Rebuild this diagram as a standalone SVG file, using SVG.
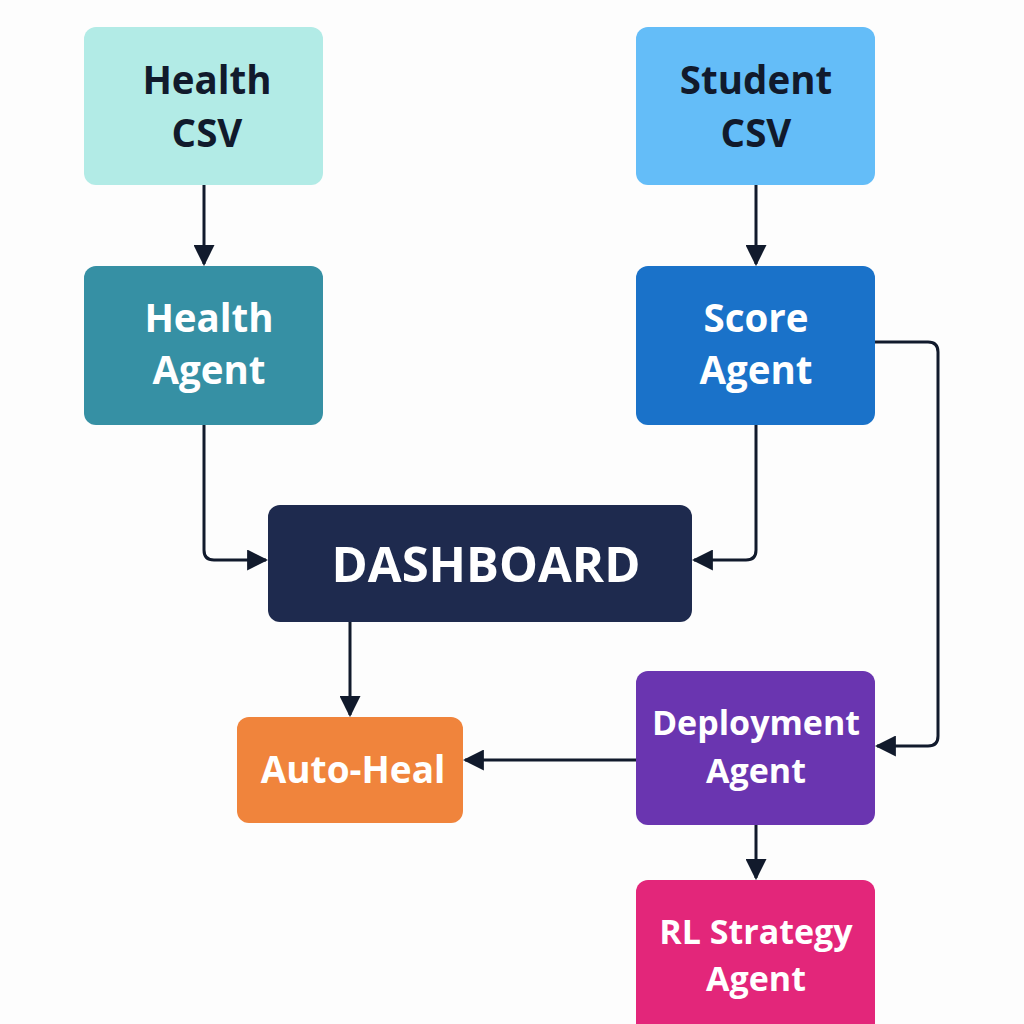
<svg xmlns="http://www.w3.org/2000/svg" width="1024" height="1024" viewBox="0 0 1024 1024">
<defs>
<marker id="ah" viewBox="0 0 10 10" refX="9" refY="5" markerWidth="7" markerHeight="7" markerUnits="strokeWidth" orient="auto">
<path d="M0,0 L10,5 L0,10 Z" fill="#111a2c"/>
</marker>
<style>
.n{font-family:"Open Sans","Liberation Sans",sans-serif;font-weight:700;text-anchor:middle}
.w{fill:#ffffff}
.d{fill:#111a2c}
.c{fill:none;stroke:#111a2c;stroke-width:3;stroke-linejoin:round;marker-end:url(#ah)}
</style>
</defs>
<rect width="1024" height="1024" fill="#fdfdfd"/>
<g id="connectors">
<path class="c" d="M204,185 V264"/>
<path class="c" d="M756,185 V264"/>
<path class="c" d="M204,425 V550 Q204,560 214,560 H266"/>
<path class="c" d="M756,425 V550 Q756,560 746,560 H694"/>
<path class="c" d="M875,342 H928 Q938,342 938,352 V736 Q938,746 928,746 H877"/>
<path class="c" d="M350,622 V715"/>
<path class="c" d="M636,760 H465"/>
<path class="c" d="M756,825 V878"/>
</g>
<g id="health-csv">
<rect x="84" y="27" width="239" height="158" rx="12" fill="#b2ebe6"/>
<text class="n d" x="207" y="94" font-size="38.5">Health</text>
<text class="n d" x="207" y="147" font-size="38.5">CSV</text>
</g>
<g id="student-csv">
<rect x="636" y="27" width="239" height="158" rx="12" fill="#64bdf8"/>
<text class="n d" x="756" y="94" font-size="38.5">Student</text>
<text class="n d" x="756" y="147" font-size="38.5">CSV</text>
</g>
<g id="health-agent">
<rect x="84" y="266" width="239" height="159" rx="12" fill="#3690a4"/>
<text class="n w" x="209" y="332" font-size="38.5">Health</text>
<text class="n w" x="209" y="384" font-size="38.5">Agent</text>
</g>
<g id="score-agent">
<rect x="636" y="266" width="239" height="159" rx="12" fill="#1a72c9"/>
<text class="n w" x="756" y="332" font-size="38.5">Score</text>
<text class="n w" x="756" y="384" font-size="38.5">Agent</text>
</g>
<g id="dashboard">
<rect x="268" y="505" width="424" height="117" rx="12" fill="#1e2a4e"/>
<text class="n w" x="486" y="582" font-size="49">DASHBOARD</text>
</g>
<g id="auto-heal">
<rect x="237" y="717" width="226" height="106" rx="12" fill="#f0843c"/>
<text class="n w" x="353" y="783" font-size="37">Auto-Heal</text>
</g>
<g id="deployment-agent">
<rect x="636" y="671" width="239" height="154" rx="12" fill="#6a35b0"/>
<text class="n w" x="756" y="735" font-size="34">Deployment</text>
<text class="n w" x="756" y="783" font-size="34">Agent</text>
</g>
<g id="rl-strategy-agent">
<rect x="636" y="880" width="239" height="160" rx="12" fill="#e3267a"/>
<text class="n w" x="756" y="944" font-size="34">RL Strategy</text>
<text class="n w" x="756" y="991" font-size="34">Agent</text>
</g>
</svg>
